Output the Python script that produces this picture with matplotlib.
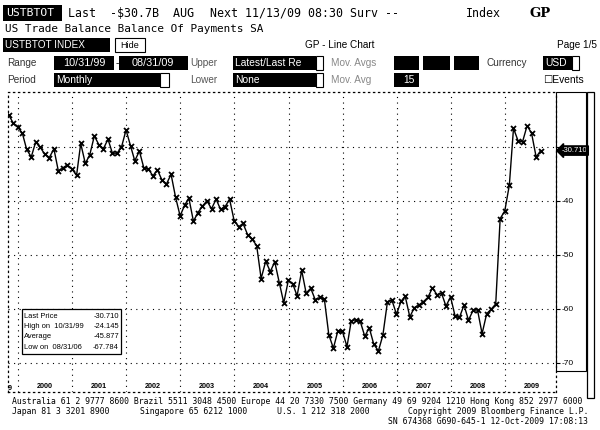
import matplotlib
matplotlib.use("Agg")
import matplotlib.pyplot as plt
from matplotlib.patches import Rectangle
from matplotlib.transforms import blended_transform_factory
import pandas as pd
from datetime import datetime

# ---------------- data ----------------
start_date = "1999-10-31"
values = [
    -24.145, -25.6, -26.4, -27.5, -30.5, -31.9, -29.1, -30.1, -31.4, -32.0,
    -30.4, -34.5, -33.9, -33.4, -34.1, -35.3, -29.4, -33.1, -31.5, -28.0,
    -29.6, -30.4, -28.6, -31.2, -31.2, -30.1, -26.9, -29.9, -32.6, -30.8,
    -33.9, -34.1, -35.4, -34.3, -36.2, -36.9, -35.1, -39.3, -42.8, -40.8,
    -39.5, -43.8, -42.2, -41.0, -40.0, -41.5, -39.7, -41.6, -41.1, -39.7,
    -43.7, -44.8, -44.2, -46.3, -47.1, -48.3, -54.4, -51.2, -53.1, -51.3,
    -55.2, -58.9, -54.7, -55.5, -57.6, -52.9, -57.1, -56.2, -58.3, -57.9,
    -58.2, -64.8, -67.3, -64.1, -64.2, -67.0, -62.3, -62.0, -62.3, -65.1,
    -63.5, -66.6, -67.784, -64.9, -58.7, -58.4, -61.0, -58.6, -57.7, -61.5,
    -59.8, -59.3, -58.7, -57.9, -56.1, -57.4, -57.1, -59.5, -57.8, -61.4,
    -61.6, -59.3, -62.1, -60.3, -60.2, -64.6, -60.9, -60.1, -59.1, -43.3,
    -41.9, -37.1, -26.6, -28.9, -29.1, -26.1, -27.5, -31.9, -30.71,
]
dates = pd.date_range(start_date, periods=len(values), freq="ME")
years = list(range(2000, 2010))
ytick_vals = [-30, -40, -50, -60, -70]
ytick_labels = ["", "-40", "-50", "-60", "-70"]
stats_labels = ["Last Price", "High on  10/31/99", "Average", "Low on  08/31/06"]
stats_values = ["-30.710", "-24.145", "-45.877", "-67.784"]
last_label = "-30.710"

# ---------------- figure ----------------
W, H = 600, 430
fig = plt.figure(figsize=(6, 4.3), dpi=100)
fig.patch.set_facecolor("white")

MONO = "DejaVu Sans Mono"
SANS = "Liberation Sans"


def R(x0, y0, x1, y1, fc="black", ec="none", lw=0.8, ls="-"):
    fig.patches.append(Rectangle((x0 / W, 1 - y1 / H), (x1 - x0) / W, (y1 - y0) / H,
                                 transform=fig.transFigure, facecolor=fc,
                                 edgecolor=ec, lw=lw, ls=ls, zorder=1))


def T(x, y, s, **kw):
    kw.setdefault("va", "center")
    return fig.text(x / W, 1 - y / H, s, **kw)


# Row 1
R(3, 5, 62, 21)
T(6, 13.5, "USTBTOT", color="white", family=MONO, fontsize=8.2)
T(68, 13.5, "Last  -$30.7B  AUG", family=MONO, fontsize=8.4)
T(210, 13.5, "Next 11/13/09 08:30 Surv --", family=MONO, fontsize=8.4)
T(466, 13.5, "Index", family=MONO, fontsize=8.4)
T(530, 13.5, "GP", family="DejaVu Serif", fontsize=9.5, fontweight="bold")
# Row 2
T(5, 29, "US Trade Balance Balance Of Payments SA", family=MONO, fontsize=7.9)
# Row 3
R(3, 38, 110, 52)
T(5, 45.5, "USTBTOT INDEX", color="white", family=SANS, fontsize=7.2)
R(115, 38, 145, 52, fc="white", ec="black", lw=0.8)
T(130, 45, "Hide", ha="center", family=SANS, fontsize=6.5)
T(340, 45.5, "GP - Line Chart", ha="center", family=SANS, fontsize=7.2)
T(597, 45.5, "Page 1/5", ha="right", family=SANS, fontsize=7.2)
# Row 4
y4 = 63
T(7, y4, "Range", family=SANS, fontsize=7.2, color="#333333")
R(54, y4 - 7, 114, y4 + 7)
T(84, y4, "10/31/99", ha="center", color="white", family=SANS, fontsize=7.8)
T(116, y4, "-", family=SANS, fontsize=7.2)
R(119, y4 - 7, 188, y4 + 7)
T(153, y4, "08/31/09", ha="center", color="white", family=SANS, fontsize=7.8)
T(190, y4, "Upper", family=SANS, fontsize=7.2, color="#555555")
R(233, y4 - 7, 316, y4 + 7)
T(235, y4, "Latest/Last Re", color="white", family=SANS, fontsize=7.4)
R(316, y4 - 7, 323, y4 + 7, fc="white", ec="black")
T(331, y4, "Mov. Avgs", family=SANS, fontsize=7.2, color="#888888")
for bx0, bx1 in [(394, 419), (423, 450), (454, 479)]:
    R(bx0, y4 - 7, bx1, y4 + 7)
T(486, y4, "Currency", family=SANS, fontsize=7.2, color="#333333")
R(543, y4 - 7, 572, y4 + 7)
T(545, y4, "USD", color="white", family=SANS, fontsize=7.4)
R(572, y4 - 7, 579, y4 + 7, fc="white", ec="black")
# Row 5
y5 = 80
T(7, y5, "Period", family=SANS, fontsize=7.2, color="#333333")
R(54, y5 - 7, 160, y5 + 7)
T(56, y5, "Monthly", color="white", family=SANS, fontsize=7.4)
R(160, y5 - 7, 169, y5 + 7, fc="white", ec="black")
T(190, y5, "Lower", family=SANS, fontsize=7.2, color="#555555")
R(233, y5 - 7, 316, y5 + 7)
T(235, y5, "None", color="white", family=SANS, fontsize=7.4)
R(316, y5 - 7, 323, y5 + 7, fc="white", ec="black")
T(331, y5, "Mov. Avg", family=SANS, fontsize=7.2, color="#888888")
R(394, y5 - 7, 419, y5 + 7)
T(415, y5, "15", ha="right", color="white", family=SANS, fontsize=7.4)
T(584, y5, "\u2610Events", ha="right", family=[SANS, "DejaVu Sans"], fontsize=7.4)

# ---------------- chart ----------------
ax_l, ax_r, ax_t, ax_b = 8, 556, 92, 392
ax = fig.add_axes([ax_l / W, 1 - ax_b / H, (ax_r - ax_l) / W, (ax_b - ax_t) / H])
ax.set_facecolor("white")
ax.plot(dates, values, color="black", lw=1.0, marker="x", ms=3.6, mew=1.3, zorder=3)

ax.set_xlim(datetime(1999, 10, 26), datetime(2009, 12, 12))
ax.set_ylim(-75.4, -19.87)
ax.set_xticks([datetime(y, 1, 1) for y in years])
ax.set_xticklabels([])
ax.tick_params(axis="x", length=0)
ax.yaxis.tick_right()
ax.set_yticks(ytick_vals)
ax.set_yticklabels(ytick_labels, fontsize=6, family=SANS)
ax.tick_params(axis="y", direction="out", length=3, width=0.8, pad=1)
ax.grid(True, color="black", lw=0.8, linestyle=(0, (1, 4)))
for s in ax.spines.values():
    s.set_linestyle((0, (1, 3)))
    s.set_linewidth(0.9)

# year labels
tr = blended_transform_factory(ax.transData, ax.transAxes)
for y in years:
    ax.text(datetime(y, 7, 1), 0.006, str(y), transform=tr, ha="center", va="bottom",
            fontsize=5.2, fontweight="bold", family=SANS)
T(8, 388, "9", fontsize=5.2, fontweight="bold", family=SANS)

# last price tag
ax.annotate(last_label, xy=(1.0, values[-1]), xycoords=("axes fraction", "data"),
            xytext=(4, 0), textcoords="offset points", va="center", ha="left",
            fontsize=5.5, color="white", family=SANS, annotation_clip=False,
            bbox=dict(boxstyle="larrow,pad=0.15", fc="black", ec="black"))

# stats box
R(22, 309, 121, 354, fc="white", ec="black", lw=0.9)
for k, (lab, val) in enumerate(zip(stats_labels, stats_values)):
    yy = 316 + k * 10.5
    T(24, yy, lab, fontsize=5.4, family=SANS, zorder=5)
    T(119, yy, val, ha="right", fontsize=5.4, family=SANS, zorder=5)

# right side panels
R(556, 92, 586, 371, fc="none", ec="black", lw=0.8)
R(587, 92, 594, 398, fc="none", ec="black", lw=0.9)

# footer
FS = 5.88
T(12, 402, "Australia 61 2 9777 8600 Brazil 5511 3048 4500 Europe 44 20 7330 7500 "
           "Germany 49 69 9204 1210 Hong Kong 852 2977 6000", family=MONO, fontsize=FS)
T(12, 412, "Japan 81 3 3201 8900", family=MONO, fontsize=FS)
T(140, 412, "Singapore 65 6212 1000", family=MONO, fontsize=FS)
T(277, 412, "U.S. 1 212 318 2000", family=MONO, fontsize=FS)
T(588, 412, "Copyright 2009 Bloomberg Finance L.P.", ha="right", family=MONO, fontsize=FS)
T(588, 422, "SN 674368 G690-645-1 12-Oct-2009 17:08:13", ha="right", family=MONO, fontsize=FS)

fig.savefig("out.png", dpi=100, facecolor="white")
